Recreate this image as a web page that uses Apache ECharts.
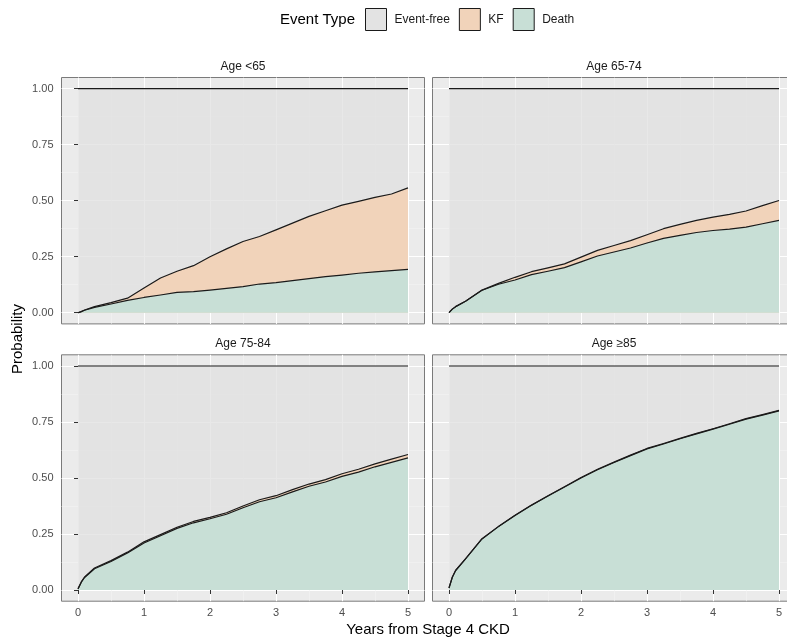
<!DOCTYPE html>
<html>
<head>
<meta charset="utf-8">
<script src="https://cdn.jsdelivr.net/npm/echarts@6/dist/echarts.min.js"></script>
<style>
  html, body { margin: 0; padding: 0; background: #fff; }
  #chart { width: 787px; height: 641px; }
</style>
</head>
<body>
<div id="chart"></div>
<script>
// years from stage 4 CKD (shared x for every panel)
const years = [0, 0.05, 0.1, 0.25, 0.5, 0.75, 1, 1.25, 1.5, 1.75, 2, 2.25, 2.5, 2.75, 3, 3.25, 3.5, 3.75, 4, 4.25, 4.5, 4.75, 5];

// Age <65
const deathLt65 = [0, 0.005, 0.011, 0.024, 0.039, 0.055, 0.068, 0.079, 0.091, 0.094, 0.101, 0.109, 0.116, 0.128, 0.134, 0.143, 0.152, 0.161, 0.168, 0.176, 0.182, 0.188, 0.193];
const kfLt65 = [0, 0, 0.001, 0.003, 0.006, 0.010, 0.042, 0.076, 0.094, 0.116, 0.149, 0.176, 0.202, 0.212, 0.236, 0.257, 0.278, 0.294, 0.312, 0.321, 0.333, 0.342, 0.364];
const freeLt65 = [1, 0.995, 0.988, 0.973, 0.955, 0.935, 0.89, 0.845, 0.815, 0.79, 0.75, 0.715, 0.682, 0.66, 0.63, 0.60, 0.57, 0.545, 0.52, 0.503, 0.485, 0.47, 0.443];

// Age 65-74
const death6574 = [0, 0.016, 0.027, 0.051, 0.100, 0.127, 0.146, 0.170, 0.185, 0.201, 0.227, 0.253, 0.271, 0.289, 0.311, 0.332, 0.345, 0.358, 0.367, 0.373, 0.382, 0.397, 0.412];
const kf6574 = [0, 0, 0, 0, 0.001, 0.004, 0.012, 0.013, 0.015, 0.017, 0.021, 0.025, 0.029, 0.033, 0.037, 0.043, 0.049, 0.054, 0.06, 0.066, 0.072, 0.081, 0.089];
const free6574 = [1, 0.984, 0.973, 0.949, 0.899, 0.869, 0.842, 0.817, 0.8, 0.782, 0.752, 0.722, 0.7, 0.678, 0.652, 0.625, 0.606, 0.588, 0.573, 0.561, 0.546, 0.522, 0.499];

// Age 75-84
const death7584 = [0.005, 0.035, 0.056, 0.095, 0.127, 0.165, 0.21, 0.242, 0.275, 0.3, 0.318, 0.338, 0.367, 0.394, 0.412, 0.438, 0.463, 0.482, 0.507, 0.526, 0.55, 0.57, 0.59];
const kf7584 = [0, 0.001, 0.002, 0.003, 0.004, 0.004, 0.005, 0.005, 0.005, 0.006, 0.006, 0.007, 0.008, 0.009, 0.009, 0.01, 0.01, 0.011, 0.012, 0.013, 0.013, 0.014, 0.015];
const free7584 = [0.995, 0.964, 0.942, 0.902, 0.869, 0.831, 0.785, 0.753, 0.72, 0.694, 0.676, 0.655, 0.625, 0.597, 0.579, 0.552, 0.527, 0.507, 0.481, 0.461, 0.437, 0.416, 0.395];

// Age >=85
const deathGe85 = [0.009, 0.057, 0.087, 0.139, 0.228, 0.283, 0.333, 0.378, 0.42, 0.46, 0.5, 0.537, 0.569, 0.6, 0.63, 0.652, 0.675, 0.697, 0.718, 0.74, 0.763, 0.781, 0.80];
const kfGe85 = [0, 0, 0, 0, 0.001, 0.001, 0.001, 0.001, 0.001, 0.001, 0.002, 0.002, 0.002, 0.002, 0.002, 0.002, 0.002, 0.002, 0.002, 0.002, 0.002, 0.002, 0.002];
const freeGe85 = [0.991, 0.943, 0.913, 0.861, 0.771, 0.716, 0.666, 0.621, 0.579, 0.539, 0.498, 0.461, 0.429, 0.398, 0.368, 0.346, 0.323, 0.301, 0.28, 0.258, 0.235, 0.217, 0.198];

const panelTitles = ['Age <65', 'Age 65-74', 'Age 75-84', 'Age \u226585'];
const eventTypes = ['Event-free', 'KF', 'Death'];
const xTicks = [0, 1, 2, 3, 4, 5];
const yTicks = [0, 0.25, 0.5, 0.75, 1];

const panels = [
  { death: deathLt65, kf: kfLt65, free: freeLt65 },
  { death: death6574, kf: kf6574, free: free6574 },
  { death: death7584, kf: kf7584, free: free7584 },
  { death: deathGe85, kf: kfGe85, free: freeGe85 }
];

// colours: solid for the legend keys, area fills layered back to front
const solid = { 'Event-free': '#e3e3e3', 'KF': '#f1d3ba', 'Death': '#c8dfd6' };
const fill = { 'Event-free': 'rgba(224,224,224,0.75)', 'KF': '#f1d3ba', 'Death': '#c8dfd6' };

// panel boxes (ggplot-style, with 5% expansion)
const boxes = [
  { left: 61.5, top: 77.5 },
  { left: 432.5, top: 77.5 },
  { left: 61.5, top: 354.8 },
  { left: 432.5, top: 354.8 }
];
const boxW = 363, boxH = 246.4;
const font = 'Liberation Sans, Arial, sans-serif';

const chart = echarts.init(document.getElementById('chart'), null, { renderer: 'canvas' });

const grids = [], xAxes = [], yAxes = [], series = [];
boxes.forEach((b, i) => {
  const bottomRow = i >= 2;
  const leftCol = i % 2 === 0;
  grids.push({
    left: b.left, top: b.top, width: boxW, height: boxH,
    show: true, backgroundColor: '#ebebeb', borderColor: '#7a7a7a', borderWidth: 1,
    outerBoundsMode: 'none'
  });
  xAxes.push({
    gridIndex: i, type: 'value', min: -0.25, max: 5.25, minInterval: 1, maxInterval: 1,
    axisLine: { show: false },
    axisTick: { show: bottomRow, length: 4, customValues: xTicks, lineStyle: { color: '#333', width: 1 } },
    axisLabel: {
      show: bottomRow, customValues: xTicks, margin: 6, color: '#4d4d4d', fontSize: 11, fontFamily: font,
      formatter: v => (Math.abs(v - Math.round(v)) < 1e-9 ? String(Math.round(v)) : '')
    },
    splitLine: { show: true, lineStyle: { color: '#ffffff', width: 1.1 } },
    minorTick: { show: false, splitNumber: 2 },
    minorSplitLine: { show: true, lineStyle: { color: '#f4f4f4', width: 0.6 } }
  });
  yAxes.push({
    gridIndex: i, type: 'value', min: -0.05, max: 1.05, minInterval: 0.25, maxInterval: 0.25,
    axisLine: { show: false },
    axisTick: { show: leftCol, length: 4, customValues: yTicks, lineStyle: { color: '#333', width: 1 } },
    axisLabel: {
      show: leftCol, customValues: yTicks, margin: 8, color: '#4d4d4d', fontSize: 11, fontFamily: font,
      formatter: v => (Math.abs(v * 4 - Math.round(v * 4)) < 1e-9 ? v.toFixed(2) : '')
    },
    splitLine: { show: true, lineStyle: { color: '#ffffff', width: 1.1 } },
    minorTick: { show: false, splitNumber: 2 },
    minorSplitLine: { show: true, lineStyle: { color: '#f4f4f4', width: 0.6 } }
  });

  // band tops: Death, Death+KF, Death+KF+Event-free (stacked by hand)
  const p = panels[i];
  const layers = [['Death', p.death], ['KF', p.kf], ['Event-free', p.free]];
  const run = years.map(() => 0);
  const tops = layers.map(([name, vals]) => {
    const top = run.map((s, k) => +(s + vals[k]).toFixed(4));
    top.forEach((v, k) => { run[k] = v; });
    return [name, top];
  });
  // draw back to front: Event-free area first, Death area last
  tops.slice().reverse().forEach(([name, top]) => {
    series.push({
      name: name, type: 'line',
      xAxisIndex: i, yAxisIndex: i,
      data: years.map((x, k) => [x, top[k]]),
      showSymbol: false, symbol: 'none', smooth: false,
      itemStyle: { color: solid[name] },
      lineStyle: { color: '#1a1a1a', width: 1.2, join: 'round' },
      areaStyle: { color: fill[name], opacity: 1, origin: 'auto' },
      emphasis: { disabled: true },
      silent: true
    });
  });
});

const texts = [];
const stripPos = [[243, 66.7], [614, 66.7], [243, 344], [614, 344]];
panelTitles.forEach((t, i) => {
  texts.push({
    type: 'text', x: stripPos[i][0], y: stripPos[i][1],
    style: { text: t, fill: '#1a1a1a', font: '12px ' + font, textAlign: 'center', textVerticalAlign: 'middle' }
  });
});
texts.push({
  type: 'text', x: 428, y: 630,
  style: { text: 'Years from Stage 4 CKD', fill: '#000', font: '15px ' + font, textAlign: 'center', textVerticalAlign: 'middle' }
});
texts.push({
  type: 'text', x: 18, y: 339, rotation: Math.PI / 2,
  style: { text: 'Probability', fill: '#000', font: '15px ' + font, textAlign: 'center', textVerticalAlign: 'middle' }
});
texts.push({
  type: 'text', x: 280, y: 20,
  style: { text: 'Event Type', fill: '#000', font: '15px ' + font, textAlign: 'left', textVerticalAlign: 'middle' }
});

chart.setOption({
  animation: false,
  backgroundColor: '#ffffff',
  legend: {
    data: eventTypes,
    left: 365, top: 8, padding: 0,
    icon: 'rect', itemWidth: 21, itemHeight: 22, itemGap: 9,
    itemStyle: { borderColor: '#1a1a1a', borderWidth: 1 },
    textStyle: { color: '#1a1a1a', fontSize: 12, fontFamily: font, padding: [0, 0, 0, 3] },
    selectedMode: false
  },
  grid: grids,
  xAxis: xAxes,
  yAxis: yAxes,
  series: series,
  graphic: texts
});
</script>
</body>
</html>
